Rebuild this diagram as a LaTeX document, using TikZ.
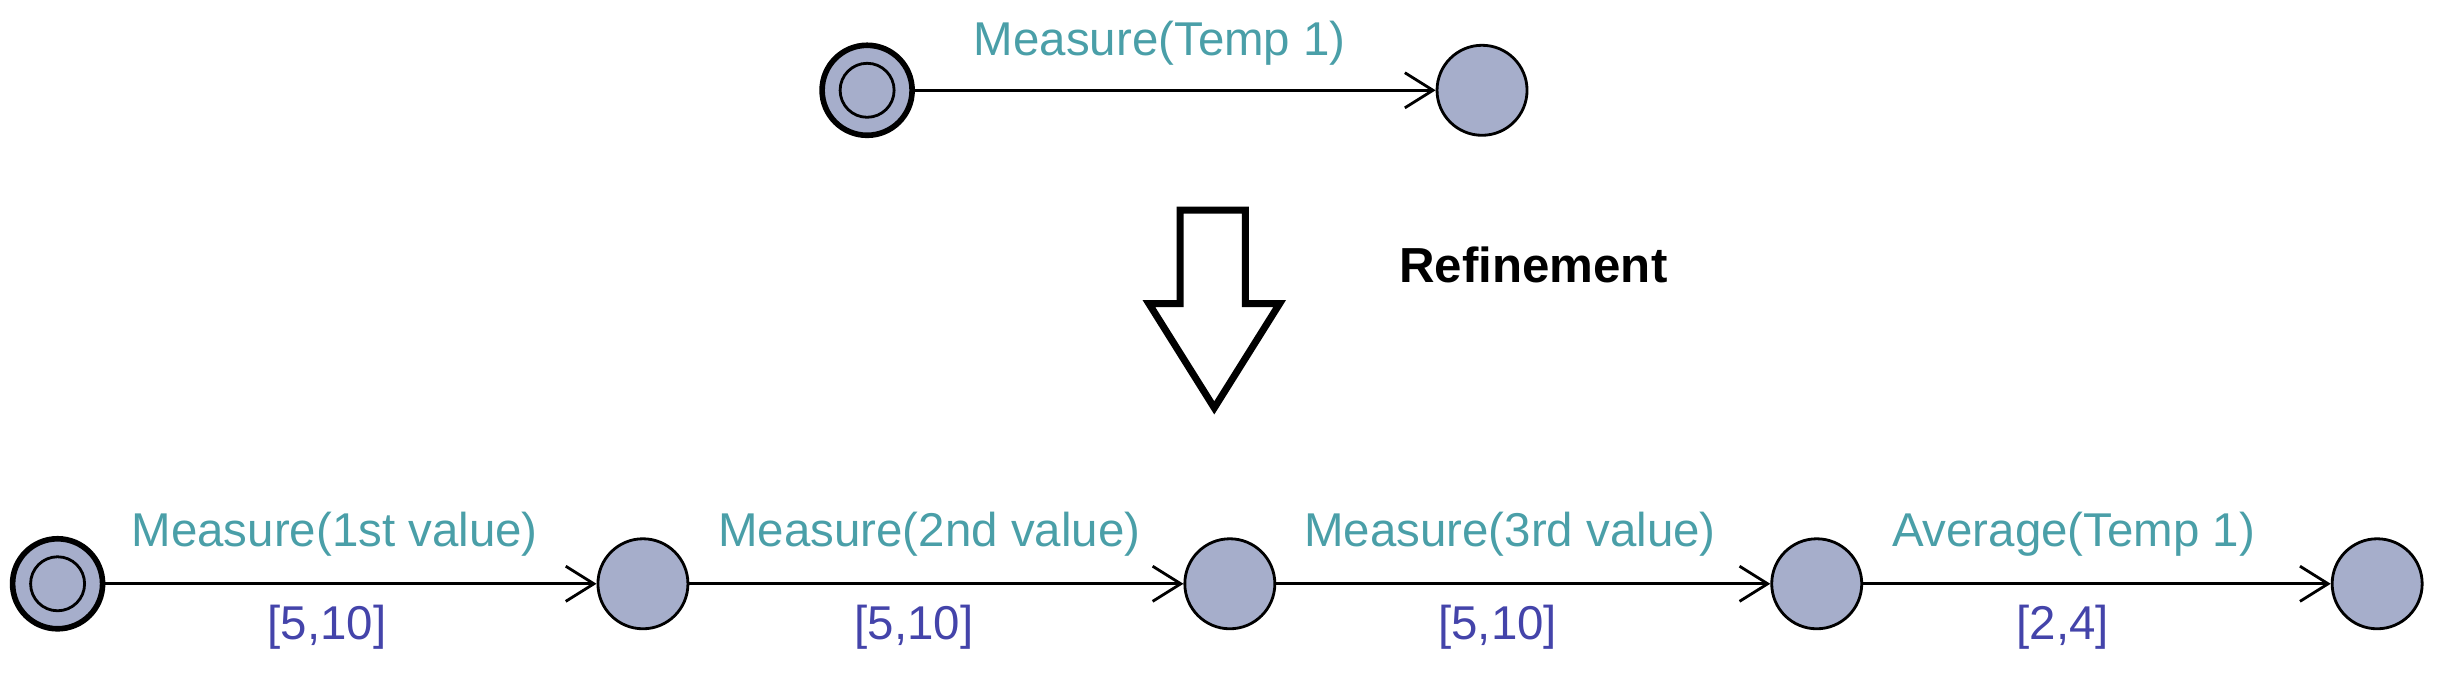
\documentclass[tikz,border=0pt]{standalone}
\usepackage{fontspec}
\setmainfont{Liberation Sans}
\usetikzlibrary{arrows.meta}
\definecolor{nfill}{HTML}{A6AECB}
\definecolor{lteal}{HTML}{4A9FA8}
\definecolor{lblue}{HTML}{4444AA}
\begin{document}
\begin{tikzpicture}[x=0.015568cm,y=-0.015568cm,
  loc/.style={circle,draw=black,fill=nfill,line width=0.8pt,minimum size=0.9cm,inner sep=0pt},
  init/.style={loc,double=nfill,double distance=0pt,path picture={\draw[line width=0.8pt] (path picture bounding box.center) circle (0.27cm);}},
  edge/.style={draw,line width=0.8pt,-{Straight Barb[length=8pt,width=10pt,line width=0.8pt]}},
  lab/.style={text=lteal,font=\fontsize{13.5}{16}\selectfont,inner sep=0pt},
  tim/.style={text=lblue,font=\fontsize{13.5}{16}\selectfont,inner sep=0pt}]
\useasboundingbox (0,0) rectangle (1568,437.5);
\node[init] (t1) at (557,58) {};
\node[loc] (t2) at (952,58) {};
\draw[edge] (t1) -- (t2);
\node[lab] (tl) at (745,28) {Measure(Temp 1)};
\draw[line width=2pt,line join=miter] (758,135) -- (800,135) -- (800,195) -- (822,195) -- (780,262) -- (738,195) -- (758,195) -- cycle;
\node[font=\fontsize{14}{16}\selectfont\bfseries,inner sep=0pt] (ref) at (985,170) {Refinement};
\node[init] (b1) at (37,375) {};
\node[loc] (b2) at (413,375) {};
\node[loc] (b3) at (790,375) {};
\node[loc] (b4) at (1167,375) {};
\node[loc] (b5) at (1527,375) {};
\draw[edge] (b1) -- (b2);
\draw[edge] (b2) -- (b3);
\draw[edge] (b3) -- (b4);
\draw[edge] (b4) -- (b5);
\node[lab] (l1) at (215,343) {Measure(1st value)};
\node[lab] (l2) at (597,343) {Measure(2nd value)};
\node[lab] (l3) at (970,343) {Measure(3rd value)};
\node[lab] (l4) at (1332,343) {Average(Temp 1)};
\node[tim] (g1) at (210,403) {[5,10]};
\node[tim] (g2) at (587,403) {[5,10]};
\node[tim] (g3) at (962,403) {[5,10]};
\node[tim] (g4) at (1325,403) {[2,4]};
\end{tikzpicture}
\end{document}
